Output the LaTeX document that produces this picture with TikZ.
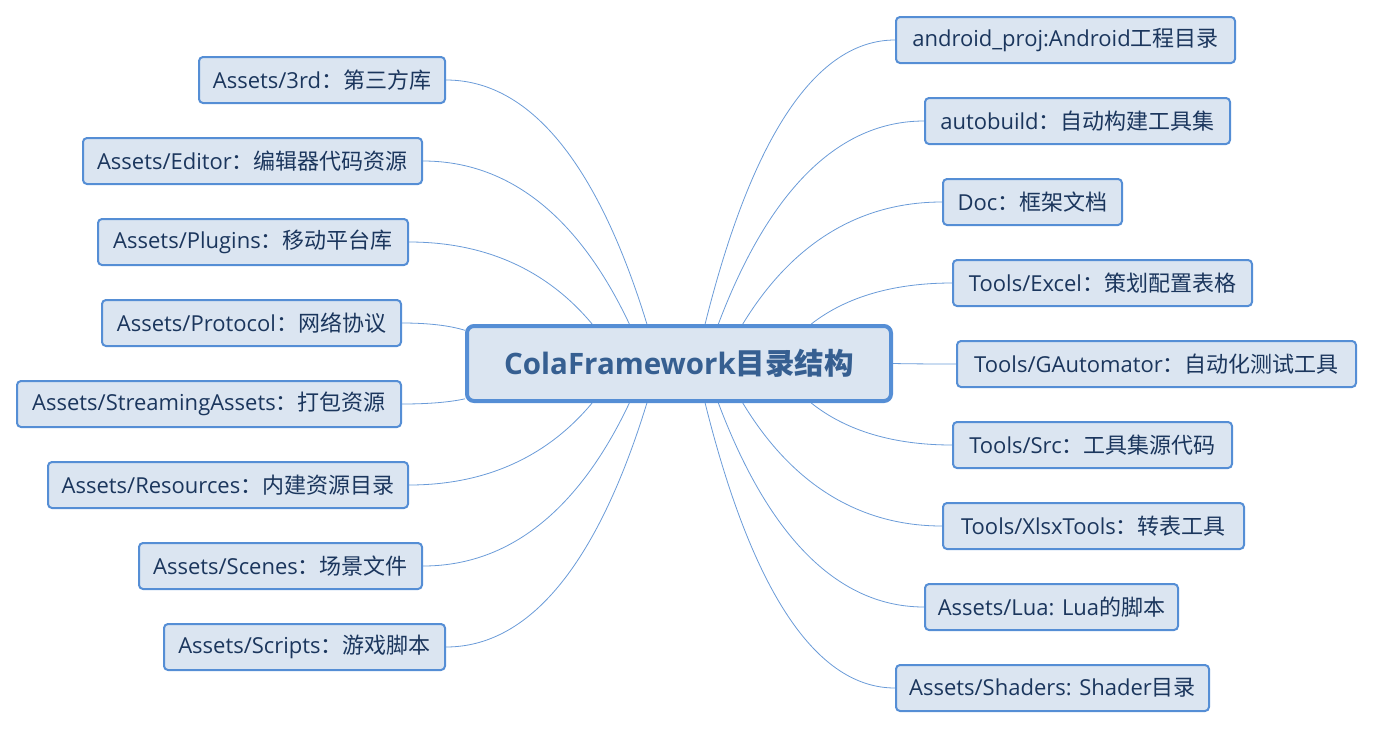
\documentclass[tikz,border=0pt]{standalone}
\usepackage{fontspec}
\setmainfont{Open Sans}
\newfontfamily\cjk{Noto Sans CJK SC}
\usetikzlibrary{calc,backgrounds}

\definecolor{boxfill}{HTML}{DBE5F1}
\definecolor{boxline}{HTML}{558ED5}
\definecolor{leaftext}{HTML}{1B365D}
\definecolor{roottext}{HTML}{365F91}
\definecolor{linkline}{HTML}{6A9BD8}

\tikzset{
  rootbox/.style={draw=boxline, line width=4pt, fill=boxfill, rounded corners=7pt,
    minimum width=424pt, minimum height=75pt, inner sep=0pt, text=roottext,
    font=\fontsize{29.5}{34}\selectfont\bfseries},
  leaf/.style={draw=boxline, line width=2pt, fill=boxfill, rounded corners=4pt,
    minimum height=46pt, inner sep=0pt, text=leaftext,
    font=\fontsize{22}{26}\selectfont},
  branch/.style={draw=linkline, line width=0.8pt}
}

% 子节点到中心的曲线
\newcommand{\branch}[2]{%
  \draw[branch] let \p1=(#1), \p2=(#2) in
    (\p1) .. controls ($(\p1)+({0.41*(\x2-\x1)},0pt)$)
      and ($(\p2)+({-0.25*(\x2-\x1)},{-0.67*(\y2-\y1)})$) .. (\p2);}

\begin{document}
\begin{tikzpicture}[x=1pt, y=-1pt]
    \useasboundingbox (0,0) rectangle (1374,729);

    % 中心主题
    \node[rootbox] (root) at (679,363.5) {ColaFramework{\cjk 目录结构}};

    % 左侧
    \node[leaf, minimum width=246pt] (n3rd) at (322,80) {Assets/3rd{\cjk ：第三方库}};
    \node[leaf, minimum width=339pt] (neditor) at (252.5,161) {Assets/Editor{\cjk ：编辑器代码资源}};
    \node[leaf, minimum width=310pt] (nplugins) at (253,242) {Assets/Plugins{\cjk ：移动平台库}};
    \node[leaf, minimum width=299pt] (nprotocol) at (251.5,323) {Assets/Protocol{\cjk ：网络协议}};
    \node[leaf, minimum width=384pt] (nstreaming) at (209,404) {Assets/StreamingAssets{\cjk ：打包资源}};
    \node[leaf, minimum width=360pt] (nresources) at (228,485) {Assets/Resources{\cjk ：内建资源目录}};
    \node[leaf, minimum width=283pt] (nscenes) at (280.5,566) {Assets/Scenes{\cjk ：场景文件}};
    \node[leaf, minimum width=281pt] (nscripts) at (304.5,647) {Assets/Scripts{\cjk ：游戏脚本}};

    % 右侧
    \node[leaf, minimum width=339pt] (nandroid) at (1065.5,40) {android\_proj:Android{\cjk 工程目录}};
    \node[leaf, minimum width=305pt] (nautobuild) at (1077.5,121) {autobuild{\cjk ：自动构建工具集}};
    \node[leaf, minimum width=179pt] (ndoc) at (1032.5,202) {Doc{\cjk ：框架文档}};
    \node[leaf, minimum width=299pt] (nexcel) at (1102.5,283) {Tools/Excel{\cjk ：策划配置表格}};
    \node[leaf, minimum width=399pt] (ngauto) at (1156.5,364) {Tools/GAutomator{\cjk ：自动化测试工具}};
    \node[leaf, minimum width=279pt] (nsrc) at (1092.5,445) {Tools/Src{\cjk ：工具集源代码}};
    \node[leaf, minimum width=301pt] (nxlsx) at (1093.5,526) {Tools/XlsxTools{\cjk ：转表工具}};
    \node[leaf, minimum width=253pt] (nlua) at (1051.5,607) {Assets/Lua: Lua{\cjk 的脚本}};
    \node[leaf, minimum width=313pt] (nshaders) at (1052.5,688) {Assets/Shaders: Shader{\cjk 目录}};

    % 连线
    \begin{scope}[on background layer]
    \branch{n3rd.east}{$(root.north west)!0.425!(root.north east)$}
    \branch{neditor.east}{$(root.north west)!0.384!(root.north east)$}
    \branch{nplugins.east}{$(root.north west)!0.297!(root.north east)$}
    \branch{nprotocol.east}{$(root.north west)!0.08!(root.south west)$}
    \branch{nstreaming.east}{$(root.north west)!0.947!(root.south west)$}
    \branch{nresources.east}{$(root.south west)!0.297!(root.south east)$}
    \branch{nscenes.east}{$(root.south west)!0.384!(root.south east)$}
    \branch{nscripts.east}{$(root.south west)!0.425!(root.south east)$}
    \branch{nandroid.west}{$(root.north west)!0.561!(root.north east)$}
    \branch{nautobuild.west}{$(root.north west)!0.592!(root.north east)$}
    \branch{ndoc.west}{$(root.north west)!0.649!(root.north east)$}
    \branch{nexcel.west}{$(root.north west)!0.809!(root.north east)$}
    \branch{ngauto.west}{root.east}
    \branch{nsrc.west}{$(root.south west)!0.809!(root.south east)$}
    \branch{nxlsx.west}{$(root.south west)!0.649!(root.south east)$}
    \branch{nlua.west}{$(root.south west)!0.592!(root.south east)$}
    \branch{nshaders.west}{$(root.south west)!0.561!(root.south east)$}
    \end{scope}
\end{tikzpicture}
\end{document}
